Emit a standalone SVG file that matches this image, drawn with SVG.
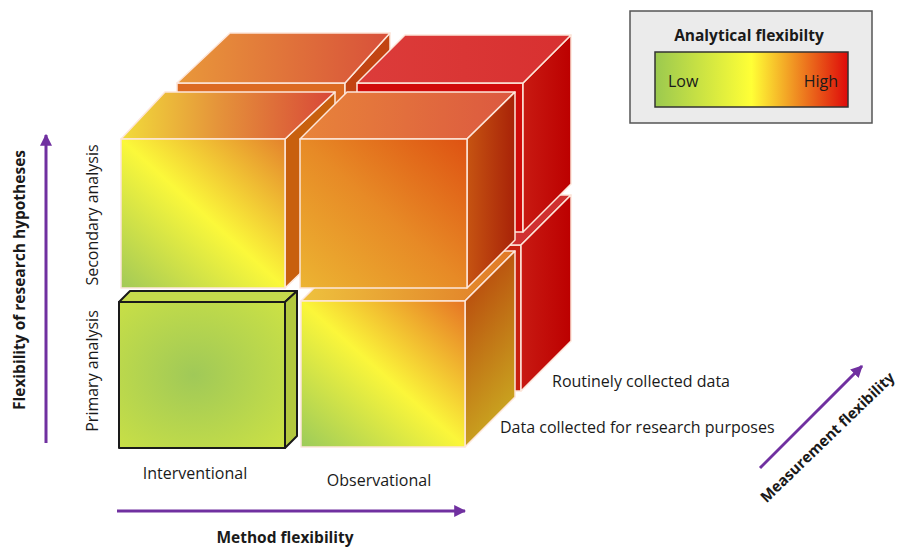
<svg xmlns="http://www.w3.org/2000/svg" width="902" height="547" viewBox="0 0 902 547">
<defs>
<linearGradient id="gFUL" x1="0" y1="1" x2="1" y2="0"><stop offset="0" stop-color="#a2c957"/><stop offset="0.5" stop-color="#fbf83a"/><stop offset="1" stop-color="#e4822c"/></linearGradient>
<linearGradient id="gFLR" x1="0" y1="1" x2="1" y2="0"><stop offset="0" stop-color="#9ccb5a"/><stop offset="0.5" stop-color="#fbf63a"/><stop offset="1" stop-color="#e67424"/></linearGradient>
<linearGradient id="gFUR" x1="0" y1="1" x2="1" y2="0"><stop offset="0" stop-color="#ecb432"/><stop offset="0.5" stop-color="#e78a26"/><stop offset="1" stop-color="#de5212"/></linearGradient>
<radialGradient id="gFLL" cx="0.45" cy="0.5" r="0.75"><stop offset="0" stop-color="#a0c958"/><stop offset="1" stop-color="#cde244"/></radialGradient>
<linearGradient id="gTopFUL" x1="0" y1="0" x2="1" y2="0"><stop offset="0" stop-color="#f2dc3a"/><stop offset="0.45" stop-color="#e5943a"/><stop offset="1" stop-color="#d84638"/></linearGradient>
<linearGradient id="gTopFUR" x1="0" y1="0" x2="1" y2="0"><stop offset="0" stop-color="#e8843a"/><stop offset="1" stop-color="#dc5840"/></linearGradient>
<linearGradient id="gTopFLR" x1="0" y1="0" x2="1" y2="0"><stop offset="0" stop-color="#eec23e"/><stop offset="1" stop-color="#e07826"/></linearGradient>
<linearGradient id="gRFUR" x1="0" y1="0" x2="1" y2="0"><stop offset="0" stop-color="#c65412"/><stop offset="1" stop-color="#a82208"/></linearGradient>
<linearGradient id="gRFLR" x1="0" y1="0" x2="0.3" y2="1"><stop offset="0" stop-color="#b63a0a"/><stop offset="1" stop-color="#caa620"/></linearGradient>
<linearGradient id="gTopBUL" x1="0" y1="0" x2="1" y2="0"><stop offset="0" stop-color="#e9983a"/><stop offset="1" stop-color="#d8503a"/></linearGradient>
<linearGradient id="gTopBUR" x1="0" y1="0" x2="1" y2="0"><stop offset="0" stop-color="#dc3c3a"/><stop offset="1" stop-color="#d83030"/></linearGradient>
<linearGradient id="gRBack" x1="0" y1="0" x2="1" y2="0"><stop offset="0" stop-color="#c81a12"/><stop offset="1" stop-color="#bc0000"/></linearGradient>
<linearGradient id="gLegend" x1="0" y1="0" x2="1" y2="0"><stop offset="0" stop-color="#9bc94f"/><stop offset="0.5" stop-color="#ffff36"/><stop offset="1" stop-color="#de0a0a"/></linearGradient>
<marker id="arr" viewBox="0 0 10 10" refX="9" refY="5" markerWidth="4" markerHeight="4" orient="auto" markerUnits="strokeWidth"><path d="M0,0 L10,5 L0,10 z" fill="#7030a0"/></marker>
</defs>
<style>
.f{stroke:#fde6da;stroke-width:1.5;stroke-linejoin:round}
.k{stroke:#1a1a1a;stroke-width:2;stroke-linejoin:round}
.ax{stroke:#7030a0;stroke-width:3;fill:none;marker-end:url(#arr)}
.t{font-family:"Open Sans","Liberation Sans",sans-serif;font-size:16px;fill:#1a1a1a}
.b{font-family:"Open Sans","Liberation Sans",sans-serif;font-size:15.5px;font-weight:bold;fill:#1a1a1a}
</style>
<rect width="902" height="547" fill="#ffffff"/>

<g id="cube-back-upper-left">
<rect class="f" x="177" y="83" width="168" height="149" fill="#dc6a22"/>
<polygon class="f" points="345,83 390,33 390,185 345,232" fill="#c24412"/>
<polygon class="f" points="177,83 345,83 390,33 230,33" fill="url(#gTopBUL)"/>
</g>
<g id="cube-back-lower-right">
<rect class="f" x="357" y="245" width="164" height="146" fill="#c82010"/>
<polygon class="f" points="357,245 521,245 571,195 407,195" fill="#d03030"/>
<polygon class="f" points="521,245 571,195 571,341 521,391" fill="url(#gRBack)"/>
</g>
<g id="cube-back-upper-right">
<rect class="f" x="357" y="83" width="166" height="149" fill="#d00a0a"/>
<polygon class="f" points="523,83 571,35 571,184 523,232" fill="url(#gRBack)"/>
<polygon class="f" points="357,83 523,83 571,35 405,35" fill="url(#gTopBUR)"/>
</g>

<g id="cube-front-lower-left">
<polygon class="k" points="119,302 285,302 297,291 130,291" fill="#c6da4c"/>
<polygon class="k" points="285,302 297,291 297,436 285,448" fill="#b3c83e"/>
<rect class="k" x="119" y="302" width="166" height="146" fill="url(#gFLL)"/>
</g>
<g id="cube-front-upper-left">
<polygon class="f" points="285,139 335,92 335,240 285,288" fill="#c8600e"/>
<polygon class="f" points="121,139 285,139 335,92 165,92" fill="url(#gTopFUL)"/>
<rect class="f" x="121" y="139" width="164" height="149" fill="url(#gFUL)"/>
</g>
<g id="cube-front-lower-right">
<polygon class="f" points="301,301 465,301 515,251 351,251" fill="url(#gTopFLR)"/>
<polygon class="f" points="465,301 515,251 515,397 465,447" fill="url(#gRFLR)"/>
<rect class="f" x="301" y="301" width="164" height="146" fill="url(#gFLR)"/>
</g>
<g id="cube-front-upper-right">
<polygon class="f" points="300,139 467,139 515,92 347,92" fill="url(#gTopFUR)"/>
<polygon class="f" points="467,139 515,92 515,240 467,288" fill="url(#gRFUR)"/>
<rect class="f" x="300" y="139" width="167" height="149" fill="url(#gFUR)"/>
</g>

<g id="legend">
<rect x="630" y="11" width="242" height="112" fill="#ebebeb" stroke="#555" stroke-width="1.5"/>
<text class="b" x="749" y="41" text-anchor="middle">Analytical flexibilty</text>
<rect x="655" y="52" width="193" height="55" fill="url(#gLegend)" stroke="#333" stroke-width="1.5"/>
<text class="t" x="668" y="87">Low</text>
<text class="t" x="838" y="87" text-anchor="end">High</text>
</g>

<g id="connectors">
<line class="ax" x1="46" y1="443" x2="46" y2="135"/>
<line class="ax" x1="117" y1="511" x2="465" y2="511"/>
<line class="ax" x1="760" y1="468" x2="862" y2="366"/>
</g>

<g id="labels">
<text class="b" transform="translate(25,280) rotate(-90)" text-anchor="middle">Flexibility of research hypotheses</text>
<text class="t" transform="translate(98,215) rotate(-90)" text-anchor="middle">Secondary analysis</text>
<text class="t" transform="translate(98,371) rotate(-90)" text-anchor="middle">Primary analysis</text>
<text class="t" x="195" y="479" text-anchor="middle">Interventional</text>
<text class="t" x="379" y="486" text-anchor="middle">Observational</text>
<text class="b" x="285" y="543" text-anchor="middle">Method flexibility</text>
<text class="t" x="552" y="387">Routinely collected data</text>
<text class="t" x="500" y="433">Data collected for research purposes</text>
<text class="b" transform="translate(831,441) rotate(-44)" text-anchor="middle" style="font-size:15px">Measurement flexibility</text>
</g>
</svg>
